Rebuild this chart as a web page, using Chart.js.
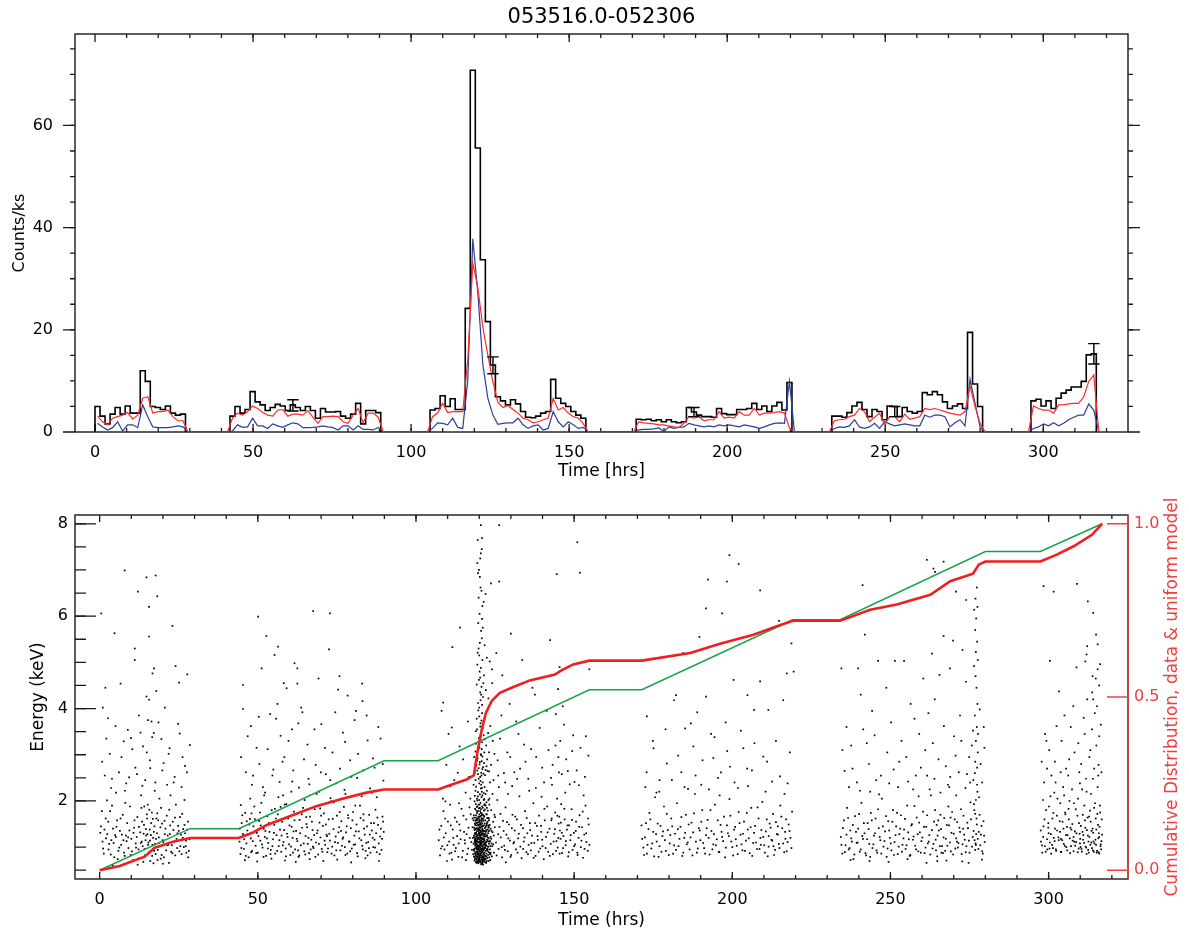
<!DOCTYPE html>
<html>
<head>
<meta charset="utf-8">
<title>053516.0-052306</title>
<script src="https://cdn.jsdelivr.net/npm/chart.js@4.4.1/dist/chart.umd.min.js"></script>
<style>
  html, body { margin: 0; padding: 0; background: #fff; }
  #wrap { position: relative; width: 1189px; height: 934px; }
  canvas { position: absolute; left: 0; }
  #lc { top: 0; }
  #ev { top: 480px; }
</style>
</head>
<body>
<div id="wrap">
  <canvas id="lc" width="1189" height="480"></canvas>
  <canvas id="ev" width="1189" height="454"></canvas>
</div>
<script>
const srcName = '053516.0-052306';

// ---- light curve: six good time intervals, fixed bin width (hours)
const binHours = 1.59;
const segStart = [0, 42.7, 106.0, 171.2, 233.1, 296.1];

// counts/ks per bin, all events
const totalRate = [
  [5.0, 3.1, 1.6, 3.5, 4.8, 3.5, 5.1, 3.7, 3.7, 12.0, 9.9, 5.0, 4.8, 4.4, 5.1, 3.7, 3.3, 3.5],
  [3.1, 5.0, 3.7, 4.4, 7.9, 5.9, 5.3, 4.2, 4.8, 5.4, 5.1, 4.2, 5.3, 4.8, 4.2, 5.0, 4.2, 2.7, 4.6, 3.9, 3.9, 4.0, 3.1, 2.7, 3.5, 5.6, 1.6, 4.2, 4.2, 3.8],
  [4.3, 4.6, 7.1, 5.0, 6.5, 4.4, 4.4, 24.2, 70.8, 55.6, 33.7, 21.6, 13.1, 6.9, 6.1, 5.3, 6.3, 5.5, 4.0, 2.9, 2.8, 3.1, 3.7, 4.0, 10.3, 6.6, 5.6, 5.0, 4.0, 3.3, 2.7],
  [2.5, 2.4, 2.5, 2.2, 2.4, 2.0, 2.4, 2.0, 1.8, 2.0, 4.8, 3.9, 3.3, 3.0, 3.0, 2.9, 4.6, 3.6, 3.4, 3.4, 4.4, 4.4, 4.6, 5.6, 4.4, 5.1, 4.0, 5.1, 5.8, 4.3, 9.7],
  [3.1, 3.1, 2.9, 3.8, 5.1, 5.8, 4.4, 3.0, 4.4, 4.0, 2.4, 5.1, 5.0, 3.0, 4.8, 4.0, 3.7, 4.0, 7.7, 7.3, 7.9, 7.3, 5.9, 4.6, 5.1, 5.5, 4.6, 19.5, 9.4, 5.0],
  [6.1, 6.4, 5.1, 6.1, 4.6, 6.6, 7.6, 8.2, 8.8, 8.8, 9.9, 15.1, 15.3]
];
// soft band (red)
const softRate = [
  [3.1, 2.0, 1.4, 2.7, 3.0, 3.3, 3.8, 2.5, 3.3, 6.6, 6.9, 3.7, 4.0, 4.0, 4.3, 3.0, 2.2, 2.2],
  [2.7, 3.7, 3.3, 4.0, 5.1, 4.6, 3.8, 3.3, 3.1, 4.3, 4.4, 3.1, 3.5, 3.5, 3.3, 4.2, 2.9, 1.7, 3.0, 3.0, 3.1, 3.0, 2.0, 1.7, 3.3, 4.6, 1.8, 3.7, 3.7, 2.9],
  [3.0, 3.7, 5.6, 3.8, 4.0, 4.0, 4.0, 14.1, 33.1, 28.3, 20.5, 15.0, 9.8, 5.8, 4.8, 5.2, 4.4, 3.7, 2.7, 2.4, 1.8, 2.0, 2.4, 2.7, 6.6, 4.3, 4.8, 3.7, 3.0, 2.7, 1.6],
  [2.0, 1.8, 1.7, 1.6, 1.4, 1.4, 1.2, 1.0, 0.9, 1.7, 3.0, 2.7, 3.0, 2.2, 2.4, 2.4, 4.0, 2.7, 2.9, 2.7, 4.0, 3.3, 3.3, 4.6, 3.3, 3.7, 3.7, 3.8, 4.0, 3.7, 0.8],
  [2.2, 2.4, 2.5, 3.0, 3.3, 4.6, 4.0, 2.0, 2.9, 3.7, 1.4, 3.0, 3.0, 2.0, 3.5, 2.5, 2.7, 3.0, 4.6, 4.4, 4.6, 4.3, 4.0, 3.7, 3.5, 3.3, 4.0, 9.0, 5.0, 1.7],
  [5.1, 4.6, 4.3, 4.3, 3.7, 5.3, 5.3, 5.5, 5.6, 5.6, 6.9, 9.9, 11.2]
];
// hard band (blue)
const hardRate = [
  [1.7, 1.0, 0.4, 0.85, 2.0, 0.2, 1.4, 1.4, 0.85, 5.3, 3.0, 1.0, 0.85, 0.85, 0.85, 1.0, 1.2, 1.0],
  [0.2, 1.4, 0.9, 1.0, 2.7, 1.2, 1.2, 0.7, 1.6, 1.2, 0.9, 1.4, 1.8, 1.6, 0.85, 0.85, 0.9, 1.0, 1.2, 1.0, 0.85, 0.4, 1.2, 1.2, 0.4, 1.2, 0.5, 0.5, 0.4, 0.9],
  [0.7, 1.8, 1.7, 1.4, 2.7, 0.9, 0.7, 10.1, 37.8, 27.3, 13.2, 6.6, 3.3, 1.5, 1.7, 1.8, 1.8, 2.7, 1.4, 0.7, 1.2, 1.4, 0.4, 0.7, 4.0, 2.0, 1.0, 2.0, 1.4, 0.7, 0.9],
  [0.4, 0.5, 0.5, 0.6, 0.8, 0.1, 1.0, 0.7, 0.9, 1.0, 1.7, 1.4, 1.2, 1.0, 1.2, 1.0, 1.4, 1.2, 1.4, 1.2, 1.0, 1.4, 1.2, 1.0, 0.7, 1.0, 1.4, 1.7, 1.8, 1.7, 9.9],
  [0.7, 1.0, 0.9, 1.2, 2.4, 1.0, 0.7, 1.0, 1.7, 0.7, 2.0, 1.6, 1.2, 1.4, 1.6, 1.4, 1.2, 1.2, 3.3, 2.9, 3.3, 3.3, 3.0, 1.0, 1.8, 2.4, 1.2, 10.3, 5.6, 1.0],
  [0.7, 1.0, 1.6, 1.2, 1.8, 1.2, 1.7, 2.4, 2.9, 3.3, 3.3, 5.5, 4.3]
];
// one error bar per interval
const errTime = [62.6, 125.9, 189.5, 253.0, 316.0];
const errLow  = [4.1, 11.4, 3.0, 3.0, 13.3];
const errHigh = [6.3, 14.7, 4.8, 5.0, 17.3];

// ---- cumulative distributions
const uniformT = [0, 28.5, 44.0, 89.9, 107.0, 154.8, 171.4, 219.1, 234.1, 280.0, 297.4, 316.9];
const uniformF = [0, 0.120, 0.120, 0.316, 0.316, 0.521, 0.521, 0.723, 0.723, 0.920, 0.920, 1.0];
const cdfT = [0, 6.3, 14.2, 17.4, 23.2, 28.5, 44.0, 48.5, 52.7, 60.1, 68.5, 77.0, 84.4, 89.9, 107.0, 110.7, 116.0, 118.3, 119.4, 120.8, 122.1, 123.9, 126.5, 130.8, 136.0, 143.9, 146.0, 149.7, 154.8, 171.4, 186.7, 196.1, 206.7, 214.1, 219.1, 234.1, 243.6, 252.0, 262.6, 268.9, 276.1, 277.9, 280.0, 297.4, 302.6, 307.9, 313.7, 316.9];
const cdfF = [0, 0.012, 0.039, 0.065, 0.082, 0.093, 0.093, 0.109, 0.130, 0.156, 0.185, 0.207, 0.224, 0.233, 0.233, 0.245, 0.262, 0.274, 0.339, 0.406, 0.454, 0.488, 0.512, 0.529, 0.548, 0.565, 0.577, 0.594, 0.605, 0.605, 0.627, 0.654, 0.680, 0.704, 0.720, 0.720, 0.752, 0.767, 0.795, 0.834, 0.856, 0.882, 0.891, 0.891, 0.911, 0.935, 0.968, 1.0];

// ---- events: time (h), energy (keV) pairs, one list per interval
const evSeg1 = [
  0.5,6.06, 7.9,6.99, 14.8,6.84, 17.7,6.88, 12.1,6.53, 18.2,6.43, 15.6,6.20, 23.0,5.79, 4.7,5.63, 15.6,5.56,
  11.1,5.30, 11.1,5.05, 17.2,4.87, 16.7,4.76, 24.0,4.92, 27.7,4.74, 25.1,4.56, 17.9,4.38, 1.8,4.45, 6.6,4.54,
  14.8,4.26, 15.6,4.19, 1.0,4.02, 2.6,3.79, 15.3,3.75, 16.4,3.72, 8.9,3.54, 17.1,3.47, 19.5,3.34, 9.9,3.36,
  7.6,3.29, 22.1,3.14, 28.5,3.21, 24.8,3.67, 20.6,4.02, 12.4,3.85, 3.2,3.02, 13.7,3.18, 26.2,2.95,
  1.6,2.55, 3.9,2.48, 6.1,2.62, 9.3,2.51, 11.8,2.58, 14.4,2.45, 16.0,2.71, 17.6,2.40, 19.8,2.66, 21.3,2.35,
  23.7,2.52, 25.9,2.30, 27.6,2.62, 8.0,2.22, 13.1,2.12, 18.9,2.05, 2.3,2.01, 5.2,2.18, 22.4,2.12, 26.8,2.02,
  0.8,2.85, 2.1,3.35, 3.6,2.28, 5.0,3.62, 6.9,2.95, 8.4,2.38, 10.3,3.12, 11.3,2.72, 12.9,3.48, 13.5,2.33,
  14.9,3.05, 15.9,2.88, 16.6,3.38, 17.4,2.22, 18.6,3.70, 20.2,2.82, 21.8,3.02, 23.4,2.40, 25.3,3.46, 27.0,2.76,
  0.4,1.45, 0.9,1.12, 1.3,0.86, 1.9,1.62, 2.4,1.28, 2.8,0.95, 3.3,1.78, 3.7,1.15, 4.2,1.40, 4.6,0.78,
  5.1,1.22, 5.5,1.58, 5.9,0.92, 6.4,1.35, 6.8,1.05, 7.3,1.70, 7.7,0.88, 8.3,1.25, 8.7,1.52, 9.1,0.98,
  9.6,1.88, 10.0,1.18, 10.5,0.72, 10.9,1.42, 11.4,1.08, 11.9,1.65, 12.3,0.95, 12.8,1.32, 13.2,1.85, 13.6,1.02,
  14.0,1.48, 14.3,0.82, 14.7,1.25, 15.0,1.62, 15.4,1.10, 15.8,1.38, 16.1,0.92, 16.5,1.75, 16.9,1.20, 17.3,1.45,
  17.7,0.85, 18.1,1.30, 18.5,1.58, 19.0,1.02, 19.4,1.85, 19.9,1.15, 20.3,0.78, 20.8,1.40, 21.2,1.68, 21.7,1.05,
  22.2,1.28, 22.6,0.90, 23.1,1.55, 23.6,1.12, 24.1,1.92, 24.5,0.98, 25.0,1.35, 25.4,1.65, 25.9,0.85, 26.3,1.20,
  26.8,1.48, 27.2,1.02, 27.7,1.38, 28.2,0.92, 15.2,1.92, 16.7,1.05, 14.5,1.15, 18.3,0.72, 13.4,1.55, 17.0,0.65,
  12.0,0.62, 21.9,0.66, 4.1,0.60,
  0.2,1.31, 1.1,0.97, 2.0,1.19, 2.7,1.55, 3.5,0.84, 4.4,1.09, 5.3,1.44, 6.2,0.99, 7.0,1.27, 7.9,0.81,
  8.5,1.13, 9.4,1.36, 10.2,0.91, 11.0,1.58, 11.7,1.22, 12.6,0.76, 13.0,1.09, 13.9,1.29, 14.2,0.96, 14.9,1.71,
  15.1,1.28, 15.5,0.88, 15.9,1.14, 16.3,1.52, 16.6,0.81, 17.1,1.33, 17.5,1.07, 17.9,1.62, 18.4,0.94, 18.7,1.21,
  19.2,1.43, 19.6,0.83, 20.1,1.11, 20.5,1.57, 21.0,0.93, 21.5,1.25, 22.0,1.81, 22.8,1.04, 23.3,1.37, 23.9,0.82,
  24.3,1.18, 24.8,1.46, 25.2,0.91, 25.7,1.27, 26.1,1.72, 26.6,1.00, 27.0,1.30, 27.4,0.88, 27.9,1.55, 28.4,1.17,
  0.7,1.78, 1.5,1.38, 3.0,1.07, 3.9,1.90, 4.9,1.26, 5.7,0.74, 6.6,1.62, 7.5,1.15, 8.1,1.96, 9.0,1.21,
  9.8,0.83, 10.7,1.31, 11.5,0.99, 12.4,1.44, 13.3,1.12, 14.1,1.88, 14.6,1.39, 15.3,1.05, 15.7,1.81, 16.2,1.26,
  16.8,1.61, 17.2,0.92, 17.8,1.18, 18.2,1.73, 18.8,1.09, 19.3,0.75, 19.7,1.51, 20.6,1.28, 21.4,1.04, 22.3,1.47,
  23.0,0.87, 23.8,1.64, 24.6,1.30, 25.5,1.02, 26.4,1.39, 27.3,1.14, 28.0,0.78, 13.8,0.68, 16.0,0.70, 20.0,0.64
];
const evSeg2 = [
  44.2,1.12, 44.5,0.85, 44.9,1.52, 45.3,1.28, 45.6,0.96, 46.0,1.74, 46.4,1.08, 46.7,1.36, 47.1,0.78, 47.5,1.61,
  47.8,1.19, 48.2,0.92, 48.6,1.45, 48.9,1.88, 49.3,1.03, 49.7,1.31, 50.0,0.88, 50.4,1.57, 50.8,1.14, 51.1,1.96,
  51.5,0.99, 51.9,1.40, 52.2,1.22, 52.6,0.81, 53.0,1.67, 53.3,1.09, 53.7,1.33, 54.1,0.94, 54.4,1.80, 54.8,1.17,
  55.2,1.48, 55.5,0.86, 55.9,1.26, 56.3,1.71, 56.6,1.02, 57.0,1.38, 57.4,0.90, 57.7,1.55, 58.1,1.11, 58.5,1.92,
  58.8,0.97, 59.2,1.29, 59.6,1.62, 59.9,1.06, 60.3,0.83, 60.7,1.44, 61.0,1.20, 61.4,1.77, 61.8,0.95, 62.1,1.35,
  62.5,1.13, 62.9,0.79, 63.2,1.59, 63.6,1.04, 64.0,1.42, 64.3,1.85, 64.7,0.91, 65.1,1.24, 65.4,1.50, 65.8,1.07,
  66.2,0.87, 66.5,1.66, 66.9,1.16, 67.3,1.37, 67.6,0.98, 68.0,1.82, 68.4,1.10, 68.7,1.30, 69.1,0.84, 69.5,1.53,
  69.8,1.21, 70.2,0.96, 70.6,1.46, 70.9,1.73, 71.3,1.05, 71.7,1.27, 72.0,0.89, 72.4,1.60, 72.8,1.14, 73.1,1.99,
  73.5,1.01, 73.9,1.39, 74.2,0.82, 74.6,1.23, 75.0,1.68, 75.3,1.09, 75.7,1.43, 76.1,0.93, 76.4,1.56, 76.8,1.18,
  77.2,1.87, 77.5,1.00, 77.9,1.32, 78.3,0.86, 78.6,1.63, 79.0,1.12, 79.4,1.41, 79.7,0.97, 80.1,1.76, 80.5,1.25,
  80.8,1.06, 81.2,1.49, 81.6,0.80, 81.9,1.34, 82.3,1.90, 82.7,1.15, 83.0,1.03, 83.4,1.58, 83.8,1.27, 84.1,0.92,
  84.5,1.45, 84.9,1.11, 85.2,1.70, 85.6,0.88, 86.0,1.36, 86.3,1.20, 86.7,1.52, 87.1,0.99, 87.4,1.30, 87.8,1.64,
  88.2,1.08, 88.5,0.85, 88.9,1.40, 89.3,1.18, 89.6,1.55,
  50.1,5.99, 52.7,5.57, 56.4,5.34, 55.3,5.16, 67.5,6.11, 72.8,6.06, 72.5,5.28, 61.6,4.98, 62.5,4.87, 51.2,4.87,
  45.3,4.51, 59.1,4.44, 62.5,4.54, 83.0,4.54, 83.1,4.16, 75.4,4.41, 45.3,3.99, 47.8,3.62, 49.6,3.15, 53.9,3.88,
  57.2,3.41, 58.4,2.95, 60.8,3.55, 64.1,3.92, 65.7,3.22, 68.3,2.78, 70.1,3.66, 73.6,3.05, 76.9,3.48, 79.2,2.88,
  80.6,3.75, 84.7,3.31, 86.9,2.72, 88.8,3.35, 46.2,2.62, 48.1,2.35, 50.5,2.80, 52.3,2.18, 54.6,2.55, 56.9,2.41,
  58.0,2.12, 61.2,2.66, 63.0,2.29, 66.0,2.48, 69.4,2.20, 71.5,2.58, 74.8,2.38, 77.7,2.15, 81.4,2.50, 85.5,2.27,
  87.6,2.08, 89.7,2.44, 55.8,3.78, 63.7,4.02, 78.4,4.28, 69.2,4.65, 81.0,3.95,
  44.7,2.95, 46.8,3.40, 48.5,2.55, 50.3,3.82, 51.6,2.30, 53.1,3.12, 54.9,2.68, 56.2,4.10, 57.8,2.85, 59.7,3.30,
  60.9,2.42, 62.8,3.68, 64.6,2.90, 66.3,2.36, 67.9,3.55, 69.9,2.62, 71.2,3.15, 72.9,2.45, 74.5,3.92, 76.0,2.70,
  77.6,3.28, 79.6,2.52, 81.7,3.02, 83.3,2.66, 84.4,3.85, 86.4,2.92, 88.1,3.60, 89.5,2.80, 58.2,4.55, 75.8,4.70,
  44.3,1.40, 44.8,0.98, 45.1,1.69, 45.7,1.17, 46.2,0.81, 46.9,1.28, 47.3,1.49, 47.9,0.89, 48.4,1.13, 49.1,1.60,
  49.5,0.87, 50.2,1.24, 50.7,1.75, 51.3,1.06, 51.8,0.79, 52.4,1.35, 52.9,1.19, 53.5,1.52, 54.0,0.85, 54.6,1.02,
  55.1,1.31, 55.7,1.62, 56.1,0.92, 56.8,1.15, 57.2,1.87, 57.9,1.04, 58.3,1.37, 58.9,0.80, 59.4,1.22, 60.0,1.47,
  60.5,1.01, 61.1,0.88, 61.6,1.58, 62.3,1.18, 62.7,0.93, 63.4,1.30, 63.9,1.71, 64.5,1.08, 65.0,0.84, 65.6,1.43,
  66.0,1.20, 66.7,0.95, 67.1,1.55, 67.8,1.26, 68.2,0.79, 68.9,1.36, 69.3,1.07, 70.0,1.68, 70.4,0.90, 71.1,1.14,
  71.5,1.49, 72.2,0.97, 72.6,1.29, 73.3,0.86, 73.7,1.61, 74.4,1.11, 74.8,0.93, 75.5,1.32, 75.9,1.76, 76.6,1.03,
  77.0,1.21, 77.7,0.83, 78.1,1.45, 78.8,1.12, 79.2,0.91, 79.9,1.58, 80.3,1.05, 81.0,1.34, 81.4,0.87, 82.1,1.19,
  82.5,1.63, 83.2,0.95, 83.6,1.40, 84.3,1.09, 84.7,0.82, 85.4,1.27, 85.8,1.52, 86.5,1.00, 86.9,1.16, 87.6,0.89,
  88.0,1.48, 88.7,1.23, 89.1,0.94, 89.8,1.33, 44.6,1.91, 46.5,1.56, 48.0,1.73, 50.9,1.47, 53.2,0.97, 55.4,1.83,
  57.5,1.25, 59.0,1.93, 61.3,1.34, 63.1,0.82, 65.3,1.65, 67.4,1.01, 69.7,1.84, 71.9,1.24, 74.0,1.97, 76.3,1.35,
  78.5,1.69, 80.8,1.90, 83.4,1.71, 85.1,0.98, 87.2,1.81, 89.4,1.66, 45.9,0.72, 49.8,0.69, 54.3,0.75, 58.6,0.71,
  62.0,0.68, 66.4,0.74, 70.7,0.70, 75.1,0.73, 79.5,0.67, 84.0,0.76, 88.3,0.70, 47.6,2.05, 52.0,2.12, 56.5,2.08,
  60.6,2.20, 64.8,2.02, 68.6,2.15, 73.0,2.06, 77.4,2.24, 82.8,2.10, 86.1,2.18
];
const evSeg3 = [
  // before the flare
  107.2,1.15, 107.6,0.82, 108.0,1.46, 108.3,1.02, 108.7,1.78, 109.0,0.95, 109.4,1.30, 109.8,0.70, 110.1,1.55, 110.5,1.12,
  110.8,1.92, 111.2,0.88, 111.6,1.38, 111.9,1.05, 112.3,1.64, 112.6,0.98, 113.0,1.24, 113.4,0.79, 113.7,1.49, 114.1,1.17,
  114.4,1.83, 114.8,0.92, 115.2,1.33, 115.5,1.08, 115.9,1.60, 116.2,0.85, 116.6,1.42, 117.0,1.20, 117.3,1.71, 117.7,0.94,
  108.5,2.05, 110.9,2.32, 113.2,2.61, 115.7,2.18, 109.6,2.78, 112.1,2.45, 114.9,2.90, 116.8,2.52, 110.3,3.45, 108.1,3.95,
  111.5,5.33, 113.8,3.18, 116.4,3.72, 108.6,4.13, 113.9,5.75, 111.3,3.59,
  107.4,1.38, 107.9,0.97, 108.8,1.21, 109.2,1.62, 109.9,1.04, 110.6,0.86, 111.0,1.47, 111.8,1.20, 112.4,0.91, 112.9,1.55,
  113.5,1.08, 114.0,1.36, 114.6,0.78, 115.0,1.68, 115.4,1.15, 116.0,1.28, 116.5,0.97, 116.9,1.86, 117.5,1.11, 117.9,1.43,
  109.3,1.99, 111.4,0.73, 113.6,1.95, 115.8,0.72, 117.2,2.05,
  // flare
  118.4,0.92, 119.2,1.35, 120.1,0.78, 120.7,1.62, 121.3,1.05, 119.6,2.10, 118.9,1.18, 122.0,1.44, 120.4,0.68, 121.8,0.97,
  118.6,1.51, 119.4,0.84, 120.3,1.22, 120.9,1.88, 121.5,0.73, 119.8,1.41, 119.0,0.99, 122.3,1.26, 120.6,2.35, 122.8,1.12,
  118.2,1.07, 119.3,1.74, 120.0,1.02, 120.8,0.88, 121.4,1.57, 119.7,0.95, 118.8,2.22, 122.1,0.81, 120.5,1.33, 123.3,1.48,
  118.5,0.71, 119.5,1.19, 120.2,1.66, 121.0,1.11, 121.6,2.04, 119.9,0.76, 119.1,1.47, 122.4,1.71, 120.7,0.93, 121.9,1.29,
  118.7,1.83, 119.4,1.03, 120.3,0.86, 121.1,1.38, 121.7,0.99, 120.0,1.27, 118.9,0.83, 122.5,0.96, 120.8,1.55, 123.0,0.89,
  118.3,1.25, 119.6,0.90, 120.1,1.45, 120.9,2.28, 121.2,1.16, 119.8,1.92, 119.2,1.06, 122.2,1.37, 120.4,1.09, 121.5,1.79,
  118.6,0.97, 119.3,1.58, 120.2,1.13, 121.0,0.74, 121.8,1.24, 119.9,1.32, 119.0,1.69, 122.6,1.15, 120.6,0.82, 123.5,1.02,
  118.8,1.39, 119.7,1.20, 120.4,2.43, 121.1,0.91, 121.4,1.47, 120.0,0.72, 119.1,1.01, 122.0,1.90, 120.7,1.27, 122.9,1.34,
  118.4,1.64, 119.5,0.79, 120.3,0.99, 120.8,1.30, 121.6,1.08, 119.8,1.10, 118.9,1.31, 122.3,0.86, 120.5,1.74, 121.9,1.58,
  118.7,1.15, 119.2,1.28, 120.1,1.36, 120.9,1.02, 121.3,0.87, 120.2,1.85, 119.4,0.94, 122.7,1.21, 120.6,1.14, 123.2,0.78,
  118.5,1.99, 119.6,1.47, 120.0,0.81, 121.0,1.60, 121.7,1.35, 119.9,1.00, 119.0,1.22, 122.1,1.05, 120.8,0.97, 121.4,2.17,
  118.3,0.80, 119.3,1.12, 120.4,1.18, 121.2,1.46, 121.5,0.95, 120.1,1.56, 118.8,1.57, 122.4,1.52, 120.7,1.69, 122.0,0.75,
  118.9,1.06, 119.7,1.66, 120.3,1.52, 120.8,0.77, 121.8,1.81, 119.5,1.25, 119.1,0.88, 122.8,1.30, 120.5,1.04, 123.6,1.22,
  118.6,1.30, 119.4,2.01, 120.2,0.93, 121.1,1.19, 121.3,1.24, 120.0,1.39, 118.7,1.09, 122.2,1.11, 120.6,1.82, 121.6,0.84,
  118.4,1.42, 119.8,0.87, 120.1,1.26, 120.9,1.40, 121.9,1.00, 119.6,1.78, 119.2,1.60, 122.5,1.63, 120.3,0.70, 123.1,1.07,
  118.8,0.89, 119.5,1.53, 120.4,1.07, 121.0,1.28, 121.4,1.12, 120.2,0.96, 119.0,2.31, 122.0,1.23, 120.7,1.44, 121.7,1.51,
  118.5,1.21, 119.3,0.98, 120.0,1.71, 120.8,1.09, 121.6,1.66, 119.9,1.63, 118.9,1.40, 122.6,0.92, 120.5,1.21, 122.3,1.97,
  118.2,1.58, 119.7,1.34, 120.3,1.09, 121.2,0.83, 121.5,1.35, 120.1,1.11, 119.1,1.14, 122.9,1.42, 120.6,1.58, 123.8,1.18,
  118.6,0.74, 119.1,0.89, 119.5,1.02, 119.9,0.69, 120.2,0.79, 120.6,0.90, 121.0,0.66, 121.3,0.78, 121.7,0.71, 119.3,1.24,
  118.7,1.04, 119.0,1.52, 119.7,0.83, 120.0,1.17, 120.5,1.48, 120.9,0.69, 121.2,0.98, 121.6,1.17, 122.1,0.67, 119.4,1.88,
  118.9,0.76, 119.6,1.11, 120.1,0.75, 120.4,1.25, 120.8,1.73, 121.1,1.34, 121.4,0.80, 121.9,1.09, 122.4,0.70, 119.2,0.73,
  118.5,1.11, 119.8,1.54, 120.3,1.42, 120.7,0.73, 121.0,0.96, 121.3,1.62, 121.7,0.88, 122.2,1.46, 119.5,0.67, 120.0,2.02,
  118.8,1.27, 119.4,0.71, 120.2,1.31, 120.6,1.06, 121.1,1.85, 121.5,1.19, 119.9,0.86, 120.9,1.51, 122.6,1.38, 123.4,0.95,
  118.3,1.69, 118.7,0.86, 119.0,1.31, 119.3,0.77, 119.6,1.38, 119.9,1.21, 120.2,1.49, 120.5,0.87, 120.8,1.18, 121.1,0.71,
  121.4,1.29, 121.7,1.93, 122.0,1.10, 122.3,0.79, 122.6,1.55, 122.9,1.01, 123.2,1.36, 123.5,0.84, 118.5,1.37, 118.9,1.93,
  119.2,0.95, 119.5,1.62, 119.8,0.74, 120.1,1.04, 120.4,1.67, 120.7,1.11, 121.0,1.45, 121.3,0.94, 121.6,1.27, 121.9,0.81,
  122.2,1.71, 122.5,1.16, 122.8,0.83, 123.1,1.58, 123.4,1.13, 118.4,0.79, 118.8,1.12, 119.1,1.79, 119.4,1.16, 119.7,0.97,
  120.0,1.59, 120.3,1.03, 120.6,1.27, 120.9,0.79, 121.2,1.70, 121.5,1.06, 121.8,1.41, 122.1,1.23, 122.4,0.95, 122.7,1.79,
  123.0,1.19, 123.3,0.86, 118.6,1.17, 119.0,0.80, 119.3,1.41, 119.6,1.04, 119.9,1.84, 120.2,0.72, 120.5,1.36, 120.8,1.62,
  121.1,1.01, 121.4,1.68, 121.7,1.14, 122.0,0.92, 122.3,1.50, 122.6,0.76, 122.9,1.63, 123.6,1.40, 118.7,1.48, 119.1,1.08,
  119.4,0.69, 119.7,1.49, 120.0,0.91, 120.3,1.78, 120.6,0.96, 120.9,1.19, 121.2,1.30, 121.5,0.76, 121.8,1.05, 122.1,1.33,
  122.4,1.85, 122.7,1.01, 123.0,1.44, 118.9,1.58, 119.2,1.87, 119.5,0.86, 119.8,1.29, 120.1,1.92, 120.4,0.83, 120.7,2.08,
  121.0,1.36, 121.3,1.12, 121.6,1.91, 121.9,0.74, 122.2,1.03, 122.5,1.25, 118.3,0.95, 118.6,2.11, 119.0,1.64, 119.6,2.19,
  120.2,2.14, 120.8,2.20, 121.4,2.02, 122.0,2.15, 119.3,2.05, 120.5,2.27, 121.1,2.40, 121.7,2.30, 118.8,2.45, 120.0,2.38,
  120.4,1.96, 119.8,2.48, 121.0,2.12, 122.4,2.22, 123.2,2.05, 119.1,0.66, 119.7,0.65, 120.3,0.67, 120.9,0.64, 121.5,0.68,
  122.2,0.66, 118.9,0.68, 123.0,0.70, 120.6,0.63, 121.2,0.62,
  122.7,0.95, 123.0,1.62, 123.3,1.12, 123.6,0.88, 123.9,1.35, 124.1,1.02, 124.4,1.55, 122.9,2.02, 123.4,2.40, 123.8,1.80,
  124.2,2.15, 122.6,2.65, 123.1,3.05, 123.7,2.78, 124.3,3.30, 123.5,0.72, 124.0,0.80, 122.8,1.47, 123.2,1.92, 123.9,1.08,
  118.0,1.20, 118.1,0.85, 117.9,1.62, 118.2,2.35, 124.6,1.25, 124.8,1.70, 123.5,3.62, 122.9,4.22, 123.3,5.02, 124.1,4.55,
  118.6,2.62, 119.3,2.88, 120.1,3.15, 120.7,2.55, 121.4,3.42, 119.8,2.71, 120.4,3.68, 121.0,2.96, 119.0,3.24, 122.0,2.67,
  118.9,3.51, 119.6,2.58, 120.2,2.84, 120.9,3.90, 121.2,2.73, 119.5,3.09, 120.6,2.61, 121.7,3.33, 122.5,2.90, 119.2,3.78,
  118.4,2.95, 119.9,3.36, 120.3,2.52, 120.8,3.12, 121.5,2.82, 119.7,3.96, 120.5,3.01, 121.1,3.58, 122.2,3.20, 123.1,2.64,
  118.8,3.07, 119.4,2.66, 120.0,3.83, 120.6,2.99, 121.3,2.59, 119.1,2.77, 120.9,3.27, 121.8,2.56, 122.8,3.47, 120.3,3.61,
  119.5,2.92, 120.7,3.74, 121.0,2.69, 119.8,3.18, 120.1,2.79, 120.4,3.40, 121.6,3.05, 122.3,2.75, 119.3,3.55, 120.8,2.86,
  119.6,4.12, 120.3,4.35, 120.9,4.08, 119.9,4.62, 120.5,4.88, 121.2,4.25, 120.0,5.15, 120.7,4.47, 119.4,4.95, 121.5,4.72,
  120.2,5.42, 120.6,5.68, 119.8,5.30, 121.0,5.05, 120.4,4.18, 119.7,5.85, 120.8,5.52, 121.3,4.55, 120.1,4.80, 122.1,4.40,
  119.5,5.21, 120.9,5.94, 120.3,4.67, 121.7,5.37, 120.6,4.30, 119.2,4.52, 122.4,5.10, 120.0,4.02, 121.1,5.75, 124.0,4.85,
  120.5,7.97, 126.3,7.97, 120.9,7.69, 119.5,7.65, 120.5,7.36, 119.4,7.15, 119.9,7.00, 123.7,6.71, 126.3,6.75, 120.2,6.85,
  120.7,6.55, 119.8,6.40, 121.0,6.22, 120.1,6.05, 120.4,6.62, 121.4,6.31, 119.6,6.93, 120.8,7.45, 122.0,6.48, 120.3,7.25,
  // decay and the bump near 145 h
  124.2,1.32, 124.6,0.88, 125.0,1.65, 125.3,1.10, 125.7,2.02, 126.1,0.96, 126.4,1.44, 126.8,1.21, 127.2,0.78, 127.5,1.57,
  127.9,1.03, 128.3,1.86, 128.6,1.27, 129.0,0.91, 129.4,1.49, 129.7,1.14, 130.1,0.83, 130.5,1.70, 130.8,1.08, 131.2,1.36,
  131.6,0.95, 131.9,1.60, 132.3,1.19, 132.7,2.10, 133.0,1.01, 133.4,0.76, 133.8,1.41, 134.1,1.12, 134.5,1.78, 134.9,0.89,
  135.2,1.30, 135.6,1.05, 136.0,1.52, 136.3,0.93, 136.7,1.25, 137.1,1.95, 137.4,1.09, 137.8,0.81, 138.2,1.46, 138.5,1.16,
  138.9,1.68, 139.3,0.97, 139.6,1.33, 140.0,1.02, 140.4,0.74, 140.7,1.58, 141.1,1.22, 141.5,1.88, 141.8,0.90, 142.2,1.40,
  142.6,1.07, 142.9,1.62, 143.3,0.85, 143.7,1.29, 144.0,1.75, 144.4,1.13, 144.8,0.99, 145.1,1.51, 145.5,1.36, 145.9,1.93,
  146.2,0.87, 146.6,1.24, 147.0,1.60, 147.3,1.04, 147.7,1.38, 148.1,0.80, 148.4,1.47, 148.8,1.15, 149.2,1.82, 149.5,0.94,
  149.9,1.31, 150.3,1.06, 150.6,1.55, 151.0,0.88, 151.4,1.20, 151.7,1.69, 152.1,1.00, 152.5,1.43, 152.8,0.77, 153.2,1.27,
  153.6,1.90, 153.9,1.11, 154.3,0.92, 154.6,1.49, 145.3,1.66, 145.7,1.18, 144.6,2.05,
  124.4,1.06, 124.9,1.43, 125.5,0.82, 126.0,1.28, 126.7,1.72, 127.1,1.00, 127.7,1.35, 128.1,0.94, 128.8,1.54, 129.2,1.19,
  129.9,0.79, 130.3,1.41, 131.0,1.11, 131.4,1.66, 132.1,0.88, 132.5,1.29, 133.2,1.48, 133.9,0.96, 134.3,1.21, 135.0,1.63,
  135.4,0.85, 136.1,1.37, 136.5,1.09, 137.2,0.77, 137.7,1.52, 138.4,1.24, 138.8,0.90, 139.5,1.46, 139.9,1.16, 140.6,1.83,
  141.0,0.98, 141.6,1.32, 142.3,0.81, 142.8,1.58, 143.5,1.12, 143.9,1.39, 144.3,0.92, 144.7,1.68, 145.0,1.20, 145.4,0.86,
  145.8,1.53, 146.1,1.31, 146.5,0.98, 146.9,1.83, 147.4,1.13, 147.9,1.47, 148.3,0.89, 148.9,1.26, 149.3,1.59, 150.0,1.02,
  150.5,1.35, 151.1,0.83, 151.6,1.44, 152.3,1.14, 152.7,1.77, 153.3,0.96, 153.8,1.30, 154.4,1.62, 154.8,1.05, 126.2,2.30,
  129.1,2.15, 132.0,2.48, 135.8,2.22, 139.7,2.09, 143.0,2.35, 145.2,2.62, 147.2,2.18, 150.1,2.41, 153.0,2.12, 128.4,0.67,
  124.8,3.02, 126.0,2.55, 127.0,3.85, 128.2,2.40, 129.8,2.95, 131.1,2.62, 132.4,3.45, 134.6,2.85, 136.4,3.12, 137.9,2.28,
  139.9,2.72, 141.3,3.95, 142.7,2.50, 144.1,3.20, 145.0,2.95, 146.4,4.05, 148.0,2.65, 149.4,3.08, 151.5,2.34, 153.7,3.40,
  124.5,2.45, 125.8,2.88, 126.6,3.35, 127.8,2.60, 128.9,3.05, 129.6,4.10, 130.4,2.32, 131.7,3.72, 132.9,2.70, 134.2,3.22,
  135.5,2.48, 136.8,4.45, 138.0,2.95, 139.1,3.58, 140.5,2.40, 141.9,3.10, 143.2,2.78, 144.2,3.88, 144.9,4.42, 145.6,3.30,
  146.1,2.58, 146.8,3.65, 147.5,2.90, 148.6,2.36, 149.7,3.42, 150.8,2.66, 152.0,3.15, 153.4,2.52, 154.5,2.98, 125.4,5.20,
  127.3,4.72, 133.6,5.05, 137.6,4.30, 144.5,6.91, 151.0,7.60, 151.8,6.94, 145.4,4.90, 142.4,5.48, 130.0,5.62, 154.8,4.85
];
const evSeg4 = [
  171.5,1.18, 172.1,0.83, 172.7,1.52, 173.2,1.05, 173.8,1.74, 174.4,0.97, 175.0,1.33, 175.6,2.08, 176.1,1.12, 176.7,0.79,
  177.3,1.46, 177.9,1.24, 178.4,1.88, 179.0,0.92, 179.6,1.37, 180.2,1.08, 180.7,1.62, 181.3,0.86, 181.9,1.29, 182.5,1.95,
  183.0,1.02, 183.6,1.44, 184.2,0.81, 184.8,1.20, 185.3,1.70, 185.9,1.10, 186.5,0.95, 187.1,1.53, 187.6,1.32, 188.2,2.15,
  188.8,0.88, 189.4,1.41, 189.9,1.15, 190.5,1.80, 191.1,0.98, 191.7,1.26, 192.2,1.59, 192.8,0.84, 193.4,1.35, 194.0,1.06,
  194.5,1.92, 195.1,1.17, 195.7,0.90, 196.3,1.48, 196.8,1.22, 197.4,1.66, 198.0,0.99, 198.6,1.30, 199.1,2.04, 199.7,1.12,
  200.3,0.82, 200.9,1.44, 201.4,1.03, 202.0,1.76, 202.6,1.27, 203.2,0.93, 203.7,1.55, 204.3,1.14, 204.9,1.38, 205.5,0.87,
  206.0,1.85, 206.6,1.09, 207.2,1.46, 207.8,0.96, 208.3,1.62, 208.9,1.20, 209.5,1.98, 210.1,1.04, 210.6,1.34, 211.2,0.80,
  211.8,1.51, 212.4,1.16, 212.9,1.72, 213.5,0.94, 214.1,1.28, 214.7,1.07, 215.2,1.90, 215.8,1.41, 216.4,0.89, 217.0,1.60,
  217.5,1.11, 218.1,1.35, 218.7,0.98, 209.0,1.05, 211.5,1.24, 214.4,1.45, 216.8,1.18, 213.0,1.02,
  171.3,1.47, 171.9,0.99, 172.4,1.21, 173.0,0.86, 173.5,1.39, 174.1,1.60, 174.7,1.08, 175.3,0.80, 175.9,1.28, 176.4,1.51,
  177.0,1.02, 177.6,0.90, 178.1,1.34, 178.7,1.15, 179.3,1.72, 179.9,0.83, 180.4,1.26, 181.0,1.45, 181.6,1.04, 182.2,0.94,
  182.8,1.39, 183.3,1.18, 183.9,1.65, 184.5,0.88, 185.1,1.31, 185.6,1.06, 186.2,1.49, 186.8,1.21, 187.4,0.82, 187.9,1.73,
  188.5,1.12, 189.1,0.97, 189.7,1.36, 190.2,1.55, 190.8,1.09, 191.4,0.86, 191.9,1.41, 192.5,1.20, 193.1,1.80, 193.7,0.95,
  194.2,1.28, 194.8,1.04, 195.4,1.58, 195.9,0.89, 196.6,1.33, 197.1,1.13, 197.7,0.78, 198.3,1.47, 198.9,1.24, 199.4,1.68,
  200.0,1.00, 200.6,1.38, 201.1,1.17, 201.7,0.85, 202.3,1.52, 202.9,1.06, 203.4,1.29, 204.0,0.92, 204.6,1.74, 205.2,1.19,
  205.8,1.43, 206.3,0.81, 206.9,1.31, 207.5,1.10, 208.0,1.86, 208.6,0.96, 209.2,1.37, 209.8,1.22, 210.3,0.88, 210.9,1.60,
  211.5,1.01, 212.1,1.42, 212.6,1.14, 213.2,0.83, 213.8,1.54, 214.4,1.27, 214.9,0.98, 215.5,1.66, 216.1,1.08, 216.7,1.33,
  217.2,0.91, 217.8,1.49, 218.4,1.20, 218.9,1.77, 176.0,2.18, 186.0,2.26, 196.0,2.12, 205.0,2.32, 210.5,2.20, 216.5,2.15,
  172.9,2.62, 174.9,3.30, 176.9,2.20, 178.9,3.55, 180.9,2.45, 182.9,2.98, 184.9,2.30, 186.9,3.68, 188.4,2.55, 190.6,2.88,
  192.6,2.25, 194.4,3.38, 196.4,2.62, 198.4,3.08, 200.7,2.40, 202.7,3.52, 204.7,2.70, 207.0,3.25, 211.0,2.85, 218.2,3.05,
  199.1,7.32, 202.0,7.13, 192.3,6.79, 198.3,6.75, 208.8,6.56, 191.7,6.17, 196.8,6.06, 218.7,5.41, 219.4,4.80, 182.2,4.29,
  181.6,4.18, 191.7,4.26, 173.0,3.83, 185.1,3.57, 206.9,3.97, 211.4,3.97, 216.1,4.18, 217.2,4.76, 200.4,4.62, 204.8,4.29,
  208.8,4.59, 175.1,3.14, 179.3,2.81, 187.7,3.18, 194.0,2.93, 199.3,2.74, 203.5,3.14, 209.8,2.96, 215.1,2.53, 217.5,2.38,
  177.0,2.45, 183.9,2.62, 190.2,2.35, 195.5,2.50, 201.8,2.28, 206.2,2.66, 212.6,2.42, 184.5,5.20, 193.3,3.45, 213.8,3.30,
  188.9,3.92, 197.9,3.70, 214.8,5.90, 172.5,2.30, 189.6,5.55
];
const evSeg5 = [
  234.3,1.22, 234.8,0.86, 235.3,1.58, 235.8,1.04, 236.3,1.85, 236.8,0.95, 237.3,1.36, 237.8,1.12, 238.3,0.74, 238.8,1.67,
  239.3,1.09, 239.8,1.40, 240.3,0.90, 240.8,1.96, 241.3,1.18, 241.8,1.30, 242.3,0.82, 242.8,1.52, 243.3,1.07, 243.8,1.74,
  244.3,0.98, 244.8,1.25, 245.3,1.62, 245.8,0.88, 246.3,1.41, 246.8,1.15, 247.3,2.05, 247.8,1.01, 248.3,1.34, 248.8,0.79,
  249.3,1.56, 249.8,1.20, 250.3,0.93, 250.8,1.80, 251.3,1.11, 251.8,1.45, 252.3,0.85, 252.8,1.28, 253.3,1.69, 253.8,1.05,
  254.3,1.38, 254.8,0.96, 255.3,1.90, 255.8,1.17, 256.3,0.83, 256.8,1.50, 257.3,1.23, 257.8,1.03, 258.3,1.64, 258.8,0.91,
  259.3,1.32, 259.8,1.13, 260.3,1.77, 260.8,0.87, 261.3,1.44, 261.8,1.08, 262.3,1.26, 262.8,2.12, 263.3,0.97, 263.8,1.55,
  264.3,1.16, 264.8,0.80, 265.3,1.36, 265.8,1.70, 266.3,1.02, 266.8,1.21, 267.3,0.92, 267.8,1.48, 268.3,1.88, 268.8,1.10,
  269.3,1.31, 269.8,0.84, 270.3,1.60, 270.8,1.19, 271.3,0.99, 271.8,1.42, 272.3,1.82, 272.8,1.06, 273.3,1.27, 273.8,0.89,
  274.3,1.53, 274.8,1.14, 275.3,1.97, 275.8,1.01, 276.3,1.35, 276.8,0.94, 277.2,1.62, 277.6,1.18, 278.0,2.08, 278.4,1.04,
  278.8,1.46, 279.2,0.86, 279.6,1.25, 264.6,1.48, 266.1,0.88, 269.0,1.64, 271.0,1.12, 273.0,1.40, 276.5,1.80, 277.0,1.05,
  277.4,2.35, 276.7,2.60, 277.1,1.28,
  234.5,1.05, 235.0,1.41, 235.6,0.89, 236.1,1.27, 236.6,1.63, 237.1,0.98, 237.6,1.19, 238.1,1.48, 238.6,0.84, 239.1,1.33,
  239.6,1.10, 240.1,1.72, 240.6,0.95, 241.1,1.24, 241.6,1.52, 242.1,0.87, 242.6,1.17, 243.1,1.39, 243.6,0.79, 244.1,1.58,
  244.6,1.06, 245.1,1.30, 245.6,0.93, 246.1,1.82, 246.6,1.22, 247.1,0.86, 247.6,1.45, 248.1,1.13, 248.6,1.67, 249.1,0.97,
  249.6,1.36, 250.1,1.08, 250.6,1.55, 251.1,0.83, 251.6,1.26, 252.1,1.74, 252.6,1.01, 253.1,1.40, 253.6,0.90, 254.1,1.19,
  254.6,1.61, 255.1,1.04, 255.6,1.32, 256.1,0.81, 256.6,1.47, 257.1,1.16, 257.6,1.89, 258.1,0.95, 258.6,1.28, 259.1,1.53,
  259.6,0.88, 260.1,1.21, 260.6,1.44, 261.1,0.99, 261.6,1.69, 262.1,1.12, 262.6,0.84, 263.1,1.37, 263.6,1.07, 264.1,1.80,
  264.4,0.93, 264.9,1.25, 265.1,1.58, 265.6,1.02, 266.0,1.39, 266.6,0.87, 267.0,1.63, 267.5,1.18, 268.0,1.03, 268.5,1.47,
  269.1,0.91, 269.5,1.76, 270.0,1.29, 270.5,0.97, 271.1,1.54, 271.5,1.09, 272.0,1.33, 272.5,0.85, 273.1,1.68, 273.5,1.16,
  274.0,1.02, 274.5,1.41, 275.0,0.88, 275.5,1.60, 276.0,1.22, 276.4,1.93, 276.9,1.08, 277.3,1.49, 277.8,0.96, 278.2,1.70,
  278.6,1.27, 279.0,0.91, 279.4,1.56, 279.8,1.11, 276.6,1.15, 277.5,2.20, 276.2,2.45, 277.9,1.33, 276.8,1.72, 277.0,2.02,
  265.8,2.18, 268.2,2.35, 270.8,2.12, 273.7,2.28, 275.2,2.40, 262.4,2.25, 258.9,2.10, 252.4,2.30, 246.4,2.14, 240.4,2.22,
  237.4,0.72, 243.4,0.70, 249.4,0.68, 255.4,0.74, 261.4,0.66, 267.7,0.71, 272.7,0.69, 278.9,0.73, 274.7,0.66, 264.8,0.70,
  235.5,2.65, 237.6,3.20, 239.4,2.40, 241.4,3.55, 243.2,2.80, 245.0,3.42, 247.0,2.55, 249.0,3.05, 251.0,2.68, 253.5,3.30,
  255.6,2.42, 257.6,3.78, 259.6,2.72, 261.6,2.55, 263.4,3.25, 265.2,2.90, 266.9,3.62, 268.9,2.52, 270.6,2.98, 272.4,3.30,
  274.2,2.58, 276.1,3.52, 278.5,2.80, 279.7,3.15, 264.0,4.20,
  277.3,6.62, 276.9,6.38, 277.5,6.20, 277.1,5.95, 276.8,5.70, 277.4,5.45, 277.0,5.22, 277.6,5.05, 276.9,4.70, 277.2,4.45,
  277.5,4.10, 276.7,3.85, 277.3,3.60, 277.0,3.30, 277.6,3.05, 276.8,2.85, 277.4,2.72, 277.7,3.45, 278.2,3.98, 276.4,4.92,
  261.5,7.22, 266.8,7.18, 263.6,7.03, 264.1,6.96, 241.2,6.67, 270.7,6.53, 273.9,6.35, 276.5,6.14, 266.8,5.57, 269.8,5.47,
  263.1,5.19, 272.8,5.27, 268.8,4.87, 265.5,4.73, 273.9,4.58,
  234.5,4.87, 239.8,4.87, 246.1,5.03, 251.4,5.03, 254.3,5.03, 240.6,4.30, 244.2,3.95, 248.7,4.45, 236.1,3.60, 242.5,3.25,
  250.2,3.70, 256.4,4.10, 259.1,3.45, 262.0,3.90, 255.0,2.95, 238.0,2.70, 245.5,2.45, 252.8,2.85, 258.0,2.55, 261.0,3.10,
  267.5,2.75, 270.1,3.40, 272.0,3.85, 274.9,2.95, 236.9,2.30, 243.6,2.20, 249.6,2.38, 257.2,2.25, 263.9,2.48, 268.6,2.30,
  271.6,2.62, 275.7,3.20, 279.0,2.40, 279.5,3.60, 234.8,3.10, 241.9,5.60, 260.4,4.65
];
const evSeg6 = [
  297.6,1.12, 298.0,0.88, 298.4,1.45, 298.8,1.02, 299.2,1.80, 299.6,0.95, 300.0,1.30, 300.4,1.10, 300.8,0.86, 301.2,1.62,
  301.6,1.20, 302.0,1.40, 302.4,0.92, 302.8,2.05, 303.2,1.15, 303.6,1.33, 304.0,0.90, 304.4,1.55, 304.8,1.07, 305.2,1.75,
  305.6,1.00, 306.0,1.26, 306.4,1.60, 306.8,0.87, 307.2,1.38, 307.6,1.14, 308.0,1.95, 308.4,1.03, 308.8,1.30, 309.2,0.89,
  309.6,1.52, 310.0,1.18, 310.4,0.96, 310.8,1.70, 311.2,1.09, 311.6,1.42, 312.0,0.85, 312.4,1.25, 312.8,1.66, 313.2,1.05,
  313.6,1.35, 314.0,0.93, 314.4,1.85, 314.8,1.16, 315.2,0.88, 315.6,1.48, 316.0,1.22, 316.4,1.02, 316.8,1.60, 309.9,1.08,
  311.0,1.26, 312.6,1.12, 313.9,1.40, 315.0,1.05, 315.9,1.30, 316.6,0.95, 307.9,1.22, 305.8,1.44, 303.9,1.18, 301.4,0.98,
  299.9,1.52, 314.2,1.12, 315.4,1.72, 316.2,1.90, 313.4,2.15, 310.6,2.25, 308.6,1.82, 306.6,2.00, 304.6,2.30, 302.6,1.68,
  298.6,2.40, 300.6,2.10,
  297.5,1.36, 297.9,1.04, 298.3,1.22, 298.7,1.60, 299.1,0.90, 299.5,1.17, 299.9,1.42, 300.3,0.97, 300.7,1.28, 301.1,1.05,
  301.5,1.74, 301.9,1.13, 302.3,0.95, 302.7,1.36, 303.1,1.21, 303.5,1.56, 303.9,0.89, 304.3,1.15, 304.7,1.40, 305.1,1.03,
  305.5,1.26, 305.9,0.93, 306.3,1.83, 306.7,1.19, 307.1,1.02, 307.5,1.50, 307.9,0.91, 308.3,1.34, 308.7,1.11, 309.1,1.68,
  309.5,0.97, 309.8,1.29, 310.2,1.46, 310.5,0.90, 310.9,1.16, 311.3,1.90, 311.7,1.01, 312.1,1.37, 312.5,0.94, 312.9,1.22,
  313.3,1.55, 313.7,0.98, 314.1,1.31, 314.5,1.08, 314.9,1.62, 315.3,0.92, 315.7,1.19, 316.1,1.44, 316.5,1.06, 316.9,1.27,
  310.1,1.00, 311.5,1.58, 312.7,0.88, 313.1,1.79, 314.3,0.90, 315.1,1.38, 315.8,0.89, 316.3,1.75, 316.7,1.13, 314.7,1.95,
  313.5,1.10, 312.3,1.64, 311.9,0.99, 310.7,1.33, 309.3,2.05, 308.1,1.12, 306.9,1.42, 305.3,1.71, 303.7,1.95, 301.8,2.18,
  300.1,1.88, 298.2,2.02, 316.0,0.86, 315.5,2.30, 314.0,2.48, 312.0,2.20, 309.9,2.38, 307.4,2.25, 304.9,2.12, 302.2,2.40,
  297.8,2.85, 299.3,3.30, 300.9,2.55, 302.5,3.62, 303.8,2.62, 305.0,3.85, 306.5,2.90, 307.8,4.05, 309.4,3.25, 310.3,2.80,
  311.4,3.45, 312.2,4.20, 313.2,3.10, 314.4,2.70, 315.3,4.05, 316.0,3.40, 316.7,2.62, 313.9,4.70, 311.6,5.02, 315.0,5.60,
  298.4,6.65, 301.6,6.53, 309.0,6.70, 312.4,6.32, 314.1,6.07, 312.2,5.35, 312.0,5.17, 315.5,5.39, 316.3,4.96, 315.5,4.85,
  300.4,5.03, 303.3,4.37, 308.8,4.89, 313.8,4.35, 314.1,4.20, 298.9,3.45, 300.2,3.10, 302.0,2.85, 304.1,3.30, 305.5,2.70,
  307.0,3.60, 308.2,3.05, 309.7,2.62, 311.1,3.80, 312.9,2.95, 313.7,3.55, 314.6,3.90, 315.1,3.20, 315.8,2.78, 316.5,3.65,
  316.0,4.50, 314.9,4.65, 315.7,2.55, 311.8,2.48, 306.2,2.55, 299.5,2.70
];

// ---- axis ticks
const timeTicks = [0, 50, 100, 150, 200, 250, 300];
const rateTicks = [0, 20, 40, 60];
const energyTicks = [2, 4, 6, 8];
const cdfTicks = [0, 0.5, 1.0];

const RED = '#ff2a2a';
const BLUE = '#2b3f9e';
const GREEN = '#17a34a';
const AXIS_RED = '#ee4040';

Chart.defaults.font.family = "'DejaVu Sans', 'Liberation Sans', sans-serif";
Chart.defaults.font.size = 16;
Chart.defaults.color = '#000';

function range(a, b, step) {
  const out = [];
  for (let v = a; v <= b + 1e-9; v += step) out.push(+v.toFixed(3));
  return out;
}

// step outline of the binned rate, dropping to zero between intervals
function histogramPoints() {
  const pts = [];
  segStart.forEach((t0, s) => {
    const vals = totalRate[s];
    pts.push({x: t0, y: 0});
    vals.forEach((v, i) => pts.push({x: t0 + i * binHours, y: v}));
    const t1 = t0 + vals.length * binHours;
    pts.push({x: t1, y: vals[vals.length - 1]});
    pts.push({x: t1, y: 0});
  });
  return pts;
}

// band curves at bin centres, zero in the gaps
function bandPoints(rates) {
  const pts = [];
  segStart.forEach((t0, s) => {
    const vals = rates[s];
    if (s > 0) pts.push({x: t0 - binHours / 2, y: 0});
    vals.forEach((v, i) => pts.push({x: t0 + (i + 0.5) * binHours, y: v}));
    pts.push({x: t0 + (vals.length + 0.5) * binHours, y: 0});
  });
  return pts;
}

function errorBarPoints() {
  const cap = 1.8, pts = [];
  errTime.forEach((t, i) => {
    const lo = errLow[i], hi = errHigh[i];
    pts.push({x: t - cap, y: hi}, {x: t + cap, y: hi}, {x: t, y: null});
    pts.push({x: t, y: hi}, {x: t, y: lo}, {x: t, y: null});
    pts.push({x: t - cap, y: lo}, {x: t + cap, y: lo}, {x: t + cap, y: null});
  });
  return pts;
}

function eventPoints() {
  const pts = [];
  [evSeg1, evSeg2, evSeg3, evSeg4, evSeg5, evSeg6].forEach(list => {
    for (let i = 0; i < list.length; i += 2) pts.push({x: list[i], y: list[i + 1]});
  });
  return pts;
}

function zip(xs, ys) { return xs.map((x, i) => ({x, y: ys[i]})); }

// tick marks on the frame; positive length points into the plot
function drawTicks(chart, scaleId, values, len, sides, color) {
  const ctx = chart.ctx, a = chart.chartArea, s = chart.scales[scaleId];
  ctx.beginPath();
  values.forEach(v => {
    const p = s.getPixelForValue(v);
    sides.forEach(side => {
      if (side === 'bottom') { ctx.moveTo(p, a.bottom); ctx.lineTo(p, a.bottom - len); }
      else if (side === 'top') { ctx.moveTo(p, a.top); ctx.lineTo(p, a.top + len); }
      else if (side === 'left') { ctx.moveTo(a.left, p); ctx.lineTo(a.left + len, p); }
      else { ctx.moveTo(a.right, p); ctx.lineTo(a.right - len, p); }
    });
  });
  ctx.strokeStyle = color;
  ctx.lineWidth = 1.3;
  ctx.stroke();
}

function framePlugin(marks, extra) {
  return {
    id: 'frame',
    beforeDatasetsDraw(chart) {
      const ctx = chart.ctx, a = chart.chartArea;
      ctx.save();
      ctx.strokeStyle = '#1a1a1a';
      ctx.lineWidth = 1.4;
      ctx.strokeRect(a.left, a.top, a.right - a.left, a.bottom - a.top);
      marks.forEach(m => drawTicks(chart, m.id, m.values, m.len, m.sides, m.color || '#1a1a1a'));
      if (extra) extra(chart, ctx, a);
      ctx.restore();
    }
  };
}

function fixedTicks(values) {
  return scale => { scale.ticks = values.map(v => ({value: v})); };
}

// ---- upper panel: light curve
new Chart(document.getElementById('lc'), {
  type: 'line',
  data: {
    datasets: [
      {label: 'total', data: histogramPoints(), stepped: 'before', borderColor: '#000', borderWidth: 1.6,
       pointRadius: 0, order: 3, xAxisID: 'x', yAxisID: 'y'},
      {label: 'soft', data: bandPoints(softRate), borderColor: RED, borderWidth: 1.2,
       pointRadius: 0, order: 1, xAxisID: 'x', yAxisID: 'y'},
      {label: 'hard', data: bandPoints(hardRate), borderColor: BLUE, borderWidth: 1.2,
       pointRadius: 0, order: 2, xAxisID: 'x', yAxisID: 'y'},
      {label: 'error', data: errorBarPoints(), borderColor: '#000', borderWidth: 1.4,
       pointRadius: 0, spanGaps: false, order: 0, xAxisID: 'x', yAxisID: 'y'}
    ]
  },
  options: {
    responsive: false,
    animation: false,
    events: [],
    layout: {padding: {left: 0, right: 61, top: 0, bottom: 0}},
    plugins: {legend: {display: false}, tooltip: {enabled: false}},
    scales: {
      x: {
        type: 'linear', position: 'bottom', min: -6.33, max: 326.8,
        grid: {display: false, drawTicks: false}, border: {display: false},
        ticks: {padding: 11, maxRotation: 0, autoSkip: false, includeBounds: false},
        afterBuildTicks: fixedTicks(timeTicks),
        afterFit: s => { s.height = 48; },
        title: {display: true, text: 'Time [hrs]', font: {size: 17, lineHeight: 1}, padding: {top: 0, bottom: 0}}
      },
      x2: {
        type: 'linear', position: 'top', axis: 'x',
        grid: {display: false, drawTicks: false}, border: {display: false},
        ticks: {display: false},
        afterFit: s => { s.height = 34; },
        title: {display: true, text: srcName, font: {size: 21, lineHeight: 1}, padding: {top: 7, bottom: 0}}
      },
      y: {
        type: 'linear', position: 'left', min: 0, max: 77.9,
        grid: {display: false, drawTicks: false}, border: {display: false},
        ticks: {padding: 22, autoSkip: false, includeBounds: false},
        afterBuildTicks: fixedTicks(rateTicks),
        afterFit: s => { s.width = 75; },
        title: {display: true, text: 'Counts/ks', font: {size: 16, lineHeight: 1}, padding: {top: 12, bottom: 0}}
      }
    }
  },
  plugins: [framePlugin([
    {id: 'x', values: timeTicks, len: 8, sides: ['bottom', 'top']},
    {id: 'x', values: range(10, 320, 10), len: 4, sides: ['bottom', 'top']},
    {id: 'y', values: rateTicks, len: -12, sides: ['left', 'right']},
    {id: 'y', values: range(5, 75, 5), len: -5, sides: ['left', 'right']}
  ])]
});

// ---- lower panel: photon arrival times vs energy, with cumulative curves
new Chart(document.getElementById('ev'), {
  type: 'scatter',
  data: {
    datasets: [
      {label: 'events', data: eventPoints(), pointStyle: 'rect', pointRadius: 1.2, borderWidth: 0,
       backgroundColor: '#000', order: 2, xAxisID: 'x', yAxisID: 'y'},
      {label: 'uniform', type: 'line', data: zip(uniformT, uniformF), borderColor: GREEN, borderWidth: 1.5,
       pointRadius: 0, order: 1, xAxisID: 'x', yAxisID: 'y2'},
      {label: 'data', type: 'line', data: zip(cdfT, cdfF), borderColor: '#f01e1e', borderWidth: 2.6,
       pointRadius: 0, order: 0, xAxisID: 'x', yAxisID: 'y2'}
    ]
  },
  options: {
    responsive: false,
    animation: false,
    events: [],
    layout: {padding: {left: 0, right: 0, top: 35, bottom: 0}},
    plugins: {legend: {display: false}, tooltip: {enabled: false}},
    scales: {
      x: {
        type: 'linear', position: 'bottom', min: -7.8, max: 325.1,
        grid: {display: false, drawTicks: false}, border: {display: false},
        ticks: {padding: 11, maxRotation: 0, autoSkip: false, includeBounds: false},
        afterBuildTicks: fixedTicks(timeTicks),
        afterFit: s => { s.height = 55; },
        title: {display: true, text: 'Time (hrs)', font: {size: 17, lineHeight: 1}, padding: {top: 0, bottom: 5}}
      },
      y: {
        type: 'linear', position: 'left', min: 0.31, max: 8.19,
        grid: {display: false, drawTicks: false}, border: {display: false},
        ticks: {padding: 7, autoSkip: false, includeBounds: false},
        afterBuildTicks: fixedTicks(energyTicks),
        afterFit: s => { s.width = 75; },
        title: {display: true, text: 'Energy (keV)', font: {size: 17, lineHeight: 1}, padding: {top: 30, bottom: 0}}
      },
      y2: {
        type: 'linear', position: 'right', min: -0.0253, max: 1.0253,
        grid: {display: false, drawTicks: false}, border: {display: false},
        ticks: {padding: 6, color: AXIS_RED, autoSkip: false, includeBounds: false, callback: v => v.toFixed(1)},
        afterBuildTicks: fixedTicks(cdfTicks),
        afterFit: s => { s.width = 61; }
      }
    }
  },
  plugins: [framePlugin([
    {id: 'x', values: timeTicks, len: 7, sides: ['bottom', 'top']},
    {id: 'x', values: range(10, 320, 10), len: 4, sides: ['bottom', 'top']},
    {id: 'y', values: energyTicks, len: 21, sides: ['left']},
    {id: 'y', values: range(0.5, 8, 0.5), len: 11, sides: ['left']}
  ], (chart, ctx, a) => {
    // red axis for the cumulative scale
    ctx.beginPath();
    ctx.moveTo(a.right, a.top);
    ctx.lineTo(a.right, a.bottom);
    ctx.strokeStyle = AXIS_RED;
    ctx.lineWidth = 1.4;
    ctx.stroke();
    drawTicks(chart, 'y2', cdfTicks, 21, ['right'], AXIS_RED);
  }), {
    id: 'cdfTitle',
    afterDraw(chart) {
      const ctx = chart.ctx, a = chart.chartArea;
      ctx.save();
      ctx.translate(1173, (a.top + a.bottom) / 2);
      ctx.rotate(-Math.PI / 2);
      ctx.fillStyle = AXIS_RED;
      ctx.font = "17px 'DejaVu Sans', sans-serif";
      ctx.textAlign = 'center';
      ctx.textBaseline = 'middle';
      ctx.fillText('Cumulative Distribution, data & uniform model', 0, 0);
      ctx.restore();
    }
  }]
});
</script>
</body>
</html>
